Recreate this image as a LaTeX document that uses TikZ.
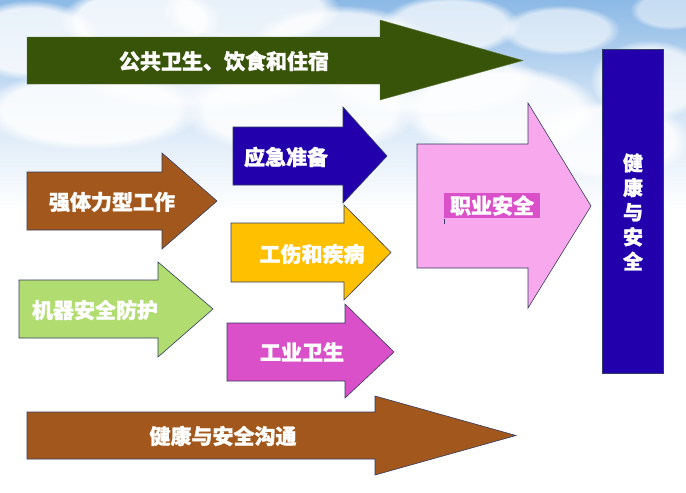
\documentclass[tikz,border=0pt]{standalone}
\usepackage{fontspec}
\newfontfamily\cjk{Noto Sans CJK SC}[BoldFeatures={FakeBold=1.2}]
\usetikzlibrary{shadings,fadings}
\definecolor{oliveG}{RGB}{55,84,9}
\definecolor{rust}{RGB}{162,88,28}
\definecolor{royal}{RGB}{34,0,172}
\definecolor{amber}{RGB}{255,192,0}
\definecolor{orchid}{RGB}{217,80,200}
\definecolor{lime}{RGB}{176,220,112}
\definecolor{pinkA}{RGB}{248,168,236}
\definecolor{edgeC}{RGB}{50,60,100}
\definecolor{skyA}{RGB}{140,185,230}
\definecolor{skyB}{RGB}{210,228,246}
\newcommand{\blockarrow}[8]{%
  \draw[#1] (#2,#3) -- (#5,#3) -- (#5,#6) -- (#8,{(#3+#4)/2}) -- (#5,#7) -- (#5,#4) -- (#2,#4) -- cycle;}
\tikzset{
  arr/.style={draw=edgeC, line width=0.6pt},
  lbl/.style={text=white, font=\cjk\bfseries\fontsize{21}{24}\selectfont, inner sep=0pt},
  cloud/.style={white, path fading=circle with fuzzy edge 20 percent},
}
\begin{document}
\begin{tikzpicture}[x=1pt,y=-1pt]
\useasboundingbox (0,0) rectangle (686,493);
% sky background
\fill[white] (0,0) rectangle (686,493);
\shade[top color=skyA, bottom color=white, middle color=skyB] (0,0) rectangle (686,210);
\foreach \cx/\cy/\rx/\ry/\op in {30/40/70/40/0.8, 140/20/80/35/0.85, 250/10/90/35/0.8, 340/45/90/40/0.75, 450/25/70/30/0.7, 560/30/60/25/0.6, 650/80/60/40/0.7, 610/140/80/40/0.8, 90/110/110/40/0.85, 300/110/120/45/0.85, 500/110/100/45/0.85, 200/70/130/40/0.7, 430/80/110/35/0.7, 670/10/40/20/0.5}
  \fill[cloud, opacity=\op] (\cx,\cy) ellipse [x radius=\rx, y radius=\ry];

% arrows
\blockarrow{fill=oliveG, draw=oliveG!80!white, line width=0.4pt}{27}{37}{84}{380}{20}{100}{523}
\node[lbl] (ph) at (224,61) {公共卫生、饮食和住宿};

\blockarrow{arr, fill=rust}{27}{172}{230}{162}{153}{249}{217}
\node[lbl] (hw) at (112,202) {强体力型工作};

\blockarrow{arr, fill=lime}{19}{280}{338}{158}{262}{357}{213}
\node[lbl] (ms) at (95,310) {机器安全防护};

\blockarrow{arr, fill=royal}{233}{127}{185}{343}{107}{203}{387}
\node[lbl] (ep) at (286,157) {应急准备};

\blockarrow{arr, fill=amber}{231}{223}{282}{344}{205}{300}{391}
\node[lbl] (id) at (312,254) {工伤和疾病};

\blockarrow{arr, fill=orchid}{227}{323}{381}{345}{304}{398}{394}
\node[lbl] (ih) at (302,352) {工业卫生};

\blockarrow{arr, fill=pinkA}{417}{144}{268}{528}{103}{308}{591}
\node[lbl, fill=orchid, minimum width=96pt, minimum height=25pt] (os) at (492,205.5) {职业安全};
\draw[edgeC, line width=1.2pt] (444.5,219) -- (444.5,224);

\blockarrow{arr, fill=rust}{27}{412}{459}{375}{396}{475}{516}
\node[lbl] (hc) at (223,436) {健康与安全沟通};

% right bar
\node[draw=edgeC, line width=0.4pt, fill=royal, minimum width=61pt, minimum height=324pt, inner sep=0pt] (bar) at (633,211) {};
\node[lbl, align=center, font=\cjk\bfseries\fontsize{20}{24.6}\selectfont] (hs) at (633,212) {健\\康\\与\\安\\全};
\end{tikzpicture}
\end{document}
